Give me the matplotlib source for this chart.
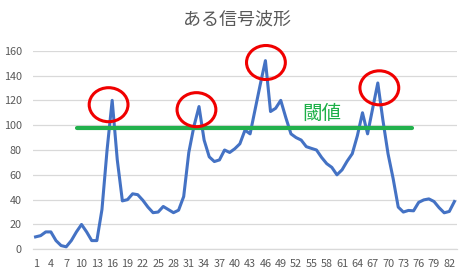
import numpy as np
import matplotlib
matplotlib.use('Agg')
import matplotlib.pyplot as plt
from matplotlib.patches import Ellipse

plt.rcParams['font.family'] = ['Noto Sans CJK JP', 'DejaVu Sans']

# signal values, one per sample (1..83)
signal = [10, 11, 14, 14, 7, 3, 2, 7, 14, 20,
          14, 7, 7, 32, 80, 120, 72, 39, 40, 44.7,
          44, 39.5, 34, 29.5, 30, 34.5, 32, 29.5, 31.5, 42.5,
          78, 99, 115, 88, 74.5, 70.7, 72, 80, 78, 81,
          85, 96, 93, 113, 133, 152, 111, 113.6, 120, 106,
          93, 90, 88, 82.7, 81.3, 80, 74, 69, 66, 60,
          64, 71, 77, 91.5, 110, 93, 113.6, 134, 104, 77,
          57, 34, 30, 31.3, 31, 37.8, 39.8, 40.6, 38.5, 33.5,
          29.4, 30.5, 38.5]
samples = np.arange(1, len(signal) + 1)
xtick_pos = samples[::3]

threshold = 97.5
threshold_span = [9.2, 74.6]
threshold_label = '閾値'
title = 'ある信号波形'

# red rings round the peaks: (sample, value) centres
peak_rings = [(15.3, 116.5), (32.5, 112.5), (46.1, 150.5), (68.3, 130.1)]
ring_w, ring_h = 7.6, 27.4

grey = '#595959'

fig = plt.figure(figsize=(4.7, 2.75), dpi=100)
ax = fig.add_axes([0.0702, 0.0935, 0.9021, 0.7221])

ax.plot(samples, signal, color='#4472C4', lw=2.2, solid_joinstyle='round', zorder=3)
ax.plot(threshold_span, [threshold, threshold], color='#22B14C', lw=3.0,
        solid_capstyle='round', zorder=4)
ax.text(57.0, 109.5, threshold_label, color='#1DB048', fontsize=14,
        ha='center', va='center', zorder=5)

for cx, cy in peak_rings:
    e = Ellipse((cx, cy), ring_w, ring_h, fill=False, edgecolor='#F00000',
                lw=2.2, zorder=6, clip_on=False)
    ax.add_patch(e)

ax.set_xlim(0.5, len(signal) + 0.5)
ax.set_ylim(0, 160)
ax.set_yticks(np.arange(0, 161, 20))
ax.set_xticks(xtick_pos)
ax.set_xticklabels([str(v) for v in xtick_pos])
ax.grid(axis='y', color='#D9D9D9', lw=0.9)
ax.set_axisbelow(True)
for s in ['top', 'right', 'left']:
    ax.spines[s].set_visible(False)
ax.spines['bottom'].set_color('#D9D9D9')
ax.spines['bottom'].set_linewidth(0.9)
ax.tick_params(axis='both', length=0, labelsize=7.8, colors=grey)
ax.tick_params(axis='y', pad=8)
ax.tick_params(axis='x', pad=7)

fig.suptitle(title, x=0.504, y=0.96, fontsize=13, color=grey)

fig.savefig('out.png', dpi=100)
